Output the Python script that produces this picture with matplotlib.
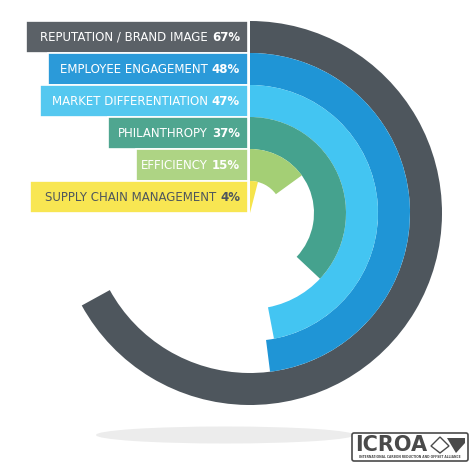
import matplotlib
matplotlib.use("Agg")
import matplotlib.pyplot as plt
from matplotlib.patches import Wedge, Ellipse, FancyBboxPatch, Polygon

labels = ["REPUTATION / BRAND IMAGE", "EMPLOYEE ENGAGEMENT", "MARKET DIFFERENTIATION",
          "PHILANTHROPY", "EFFICIENCY", "SUPPLY CHAIN MANAGEMENT"]
values = [67, 48, 47, 37, 15, 4]

ring_colors = ["#4e565d", "#1f95d6", "#43c5f2", "#45a28e", "#a4cf75", "#f6e44b"]
bar_colors = ["#5b6167", "#2b9ad9", "#55c8f0", "#4fa690", "#aed484", "#f8e652"]
text_colors = ["white", "white", "white", "white", "white", "#4e565d"]
label_left = [26, 48, 40, 108, 136, 30]

cx, cy = 250, 213
ring_w = 32
r_outer = 192

fig = plt.figure(figsize=(4.74, 4.70), dpi=100)
ax = fig.add_axes([0, 0, 1, 1])
ax.set_xlim(0, 474)
ax.set_ylim(470, 0)
ax.axis("off")

# shadow under the rings
ax.add_patch(Ellipse((225, 435), 258, 17, color="#ececec", lw=0))

for i, (lab, v) in enumerate(zip(labels, values)):
    r = r_outer - i * ring_w
    # y axis is flipped, so -90 is the top and angles grow clockwise
    ax.add_patch(Wedge((cx, cy), r, -90, -90 + v * 3.6, width=ring_w,
                       color=ring_colors[i], lw=0))
    yc = cy - r + ring_w / 2
    ax.barh(yc, 248 - label_left[i], left=label_left[i], height=ring_w,
            color=bar_colors[i], edgecolor="white", linewidth=1.2)
    pct = ax.text(240, yc + 0.5, f"{v}%", ha="right", va="center",
                  fontsize=8.5, fontweight="bold", color=text_colors[i])
    ax.annotate(lab, xy=(0, 0.5), xycoords=pct, xytext=(-3, 0),
                textcoords="offset points", ha="right", va="center",
                fontsize=8.5, color=text_colors[i])

# ICROA logo
ax.add_patch(FancyBboxPatch((352, 433), 116, 28, boxstyle="round,pad=0,rounding_size=2",
                            fc="white", ec="#4a4a4a", lw=1.2))
ax.text(355, 445, "ICROA", fontsize=15, fontweight="bold", color="#4a4a4a",
        va="center", ha="left")
ax.add_patch(Polygon([(431, 446), (440, 437), (449, 446), (440, 453)], closed=True,
                     fc="white", ec="#4a4a4a", lw=1))
ax.add_patch(Polygon([(447, 438), (465, 438), (465, 443), (456, 453)], closed=True,
                     fc="#4a4a4a", lw=0))
ax.text(410, 457.5, "INTERNATIONAL CARBON REDUCTION AND OFFSET ALLIANCE", fontsize=2.2,
        fontweight="bold", color="#4a4a4a", ha="center", va="center")

fig.savefig("out.png", dpi=100)
